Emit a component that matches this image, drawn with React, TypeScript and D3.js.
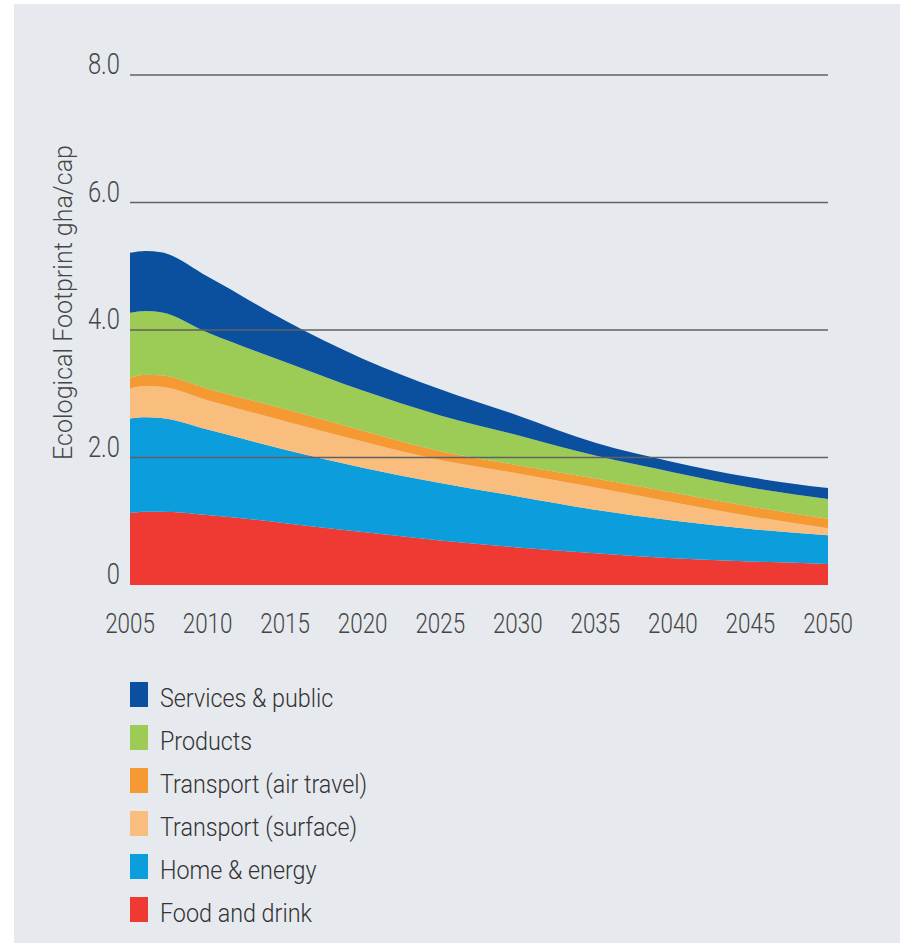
import React from 'react';
import * as d3 from 'd3';

// years sampled along the x axis
const years = [2005, 2006, 2007, 2010, 2015, 2020, 2025, 2030, 2035, 2040, 2045, 2050];

// gha per capita by component (stacked bottom to top)
const foodAndDrink = [1.13, 1.15, 1.15, 1.1, 0.97, 0.83, 0.7, 0.59, 0.5, 0.42, 0.37, 0.33];
const homeEnergy = [1.48, 1.48, 1.47, 1.34, 1.15, 1.01, 0.9, 0.8, 0.68, 0.59, 0.51, 0.45];
const transportSurface = [0.47, 0.49, 0.49, 0.46, 0.45, 0.41, 0.36, 0.36, 0.35, 0.29, 0.2, 0.11];
const transportAir = [0.17, 0.18, 0.18, 0.18, 0.19, 0.17, 0.14, 0.13, 0.14, 0.15, 0.15, 0.15];
const products = [1.02, 1.0, 0.99, 0.88, 0.74, 0.63, 0.56, 0.47, 0.36, 0.32, 0.3, 0.31];
const servicesPublic = [0.94, 0.94, 0.94, 0.88, 0.65, 0.5, 0.41, 0.31, 0.2, 0.16, 0.16, 0.17];

const yTicks = [0, 2, 4, 6, 8];
const xTicks = [2005, 2010, 2015, 2020, 2025, 2030, 2035, 2040, 2045, 2050];

const series = [
  { key: 'food', label: 'Food and drink', values: foodAndDrink, color: '#ee3a33' },
  { key: 'home', label: 'Home & energy', values: homeEnergy, color: '#0b9ddc' },
  { key: 'surface', label: 'Transport (surface)', values: transportSurface, color: '#f9bd7d' },
  { key: 'air', label: 'Transport (air travel)', values: transportAir, color: '#f59a33' },
  { key: 'products', label: 'Products', values: products, color: '#9ccb56' },
  { key: 'services', label: 'Services & public', values: servicesPublic, color: '#0a509f' },
];

const FONT = 'Roboto, "Liberation Sans", Arial, sans-serif';

export default function App() {
  const ref = React.useRef<SVGSVGElement>(null);

  React.useEffect(() => {
    const svg = d3.select(ref.current);
    svg.selectAll('*').remove();

    const x = d3.scaleLinear().domain([2005, 2050]).range([130, 828]);
    const y = d3.scaleLinear().domain([0, 8]).range([585, 75]);

    svg
      .append('rect')
      .attr('x', 14)
      .attr('y', 4)
      .attr('width', 886)
      .attr('height', 939)
      .attr('fill', '#e6eaee');

    const table = years.map((yr, i) => {
      const row: any = { year: yr };
      series.forEach((s) => (row[s.key] = s.values[i]));
      return row;
    });

    const stacked = d3.stack().keys(series.map((s) => s.key))(table);

    const area = d3
      .area<any>()
      .x((d) => x(d.data.year))
      .y0((d) => y(d[0]))
      .y1((d) => y(d[1]))
      .curve(d3.curveMonotoneX);

    svg
      .append('g')
      .selectAll('path')
      .data(stacked)
      .join('path')
      .attr('fill', (_d, i) => series[i].color)
      .attr('d', area as any);

    // gridlines sit on top of the areas
    svg
      .append('g')
      .selectAll('line')
      .data(yTicks.filter((t) => t > 0))
      .join('line')
      .attr('x1', x(2005))
      .attr('x2', x(2050))
      .attr('y1', (d) => y(d))
      .attr('y2', (d) => y(d))
      .attr('stroke', '#5f6163')
      .attr('stroke-width', 1.6);

    // condensed look: squeeze the text horizontally
    svg
      .append('g')
      .selectAll('text')
      .data(yTicks)
      .join('text')
      .attr('transform', (d) => `translate(120,${y(d) - 1}) scale(0.82,1)`)
      .attr('text-anchor', 'end')
      .attr('font-family', FONT)
      .attr('font-weight', 300)
      .attr('font-size', 29)
      .attr('fill', '#454545')
      .text((d) => (d === 0 ? '0' : d.toFixed(1)));

    svg
      .append('g')
      .selectAll('text')
      .data(xTicks)
      .join('text')
      .attr('transform', (d) => `translate(${x(d)},633) scale(0.8,1)`)
      .attr('text-anchor', 'middle')
      .attr('font-family', FONT)
      .attr('font-weight', 300)
      .attr('font-size', 28)
      .attr('fill', '#454545')
      .text((d) => String(d));

    svg
      .append('text')
      .attr('transform', `translate(72,${(143 + 462) / 2}) rotate(-90)`)
      .attr('text-anchor', 'middle')
      .attr('font-family', FONT)
      .attr('font-weight', 300)
      .attr('font-size', 25)
      .attr('fill', '#454545')
      .text('Ecological Footprint gha/cap');

    const legendRows = series.slice().reverse();
    const lg = svg
      .append('g')
      .selectAll('g')
      .data(legendRows)
      .join('g')
      .attr('transform', (_d, i) => `translate(130,${682 + i * 43})`);

    lg.append('rect').attr('width', 18).attr('height', 25).attr('fill', (d) => d.color);

    lg.append('text')
      .attr('transform', 'translate(30,25) scale(0.88,1)')
      .attr('font-family', FONT)
      .attr('font-weight', 300)
      .attr('font-size', 26.5)
      .attr('fill', '#333333')
      .text((d) => d.label);
  }, []);

  return (
    <svg
      ref={ref}
      width={900}
      height={943}
      style={{ position: 'absolute', left: 0, top: 0, display: 'block' }}
    />
  );
}
